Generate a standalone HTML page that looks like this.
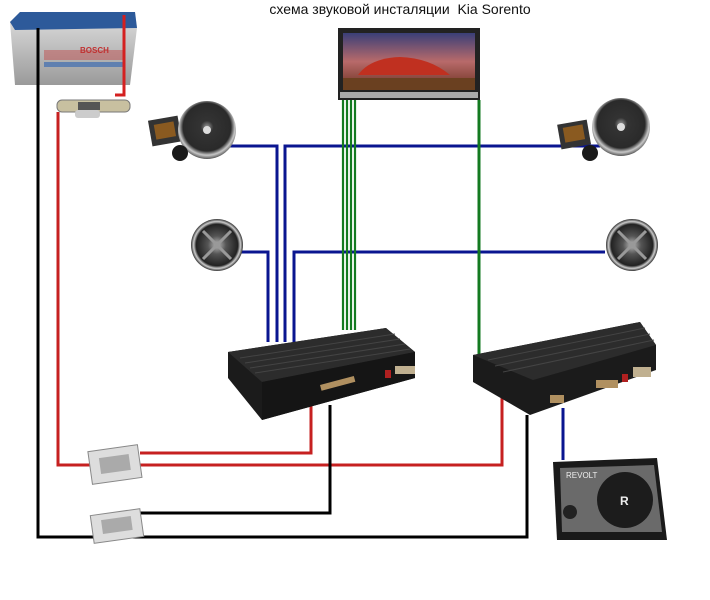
<!DOCTYPE html>
<html><head><meta charset="utf-8"><style>
html,body{margin:0;padding:0;background:#fff;}
svg{display:block;}
</style></head><body>
<svg width="710" height="600" viewBox="0 0 710 600" xmlns="http://www.w3.org/2000/svg">
<defs>
<radialGradient id="wf" cx="50%" cy="45%" r="55%"><stop offset="0" stop-color="#999"/><stop offset="0.2" stop-color="#333"/><stop offset="0.75" stop-color="#2a2a2a"/><stop offset="0.88" stop-color="#c8c8c8"/><stop offset="1" stop-color="#555"/></radialGradient>
<radialGradient id="cx" cx="50%" cy="50%" r="50%"><stop offset="0" stop-color="#bbb"/><stop offset="0.35" stop-color="#555"/><stop offset="0.8" stop-color="#222"/><stop offset="0.9" stop-color="#ccc"/><stop offset="1" stop-color="#333"/></radialGradient>
<linearGradient id="sky" x1="0" y1="0" x2="0" y2="1"><stop offset="0" stop-color="#3a3f78"/><stop offset="0.5" stop-color="#b86a6a"/><stop offset="1" stop-color="#6a3020"/></linearGradient>
<linearGradient id="bat" x1="0" y1="0" x2="0" y2="1"><stop offset="0" stop-color="#e0e0e0"/><stop offset="1" stop-color="#9a9a9a"/></linearGradient>
</defs>
<text x="400" y="14" font-family="Liberation Sans, sans-serif" font-size="14" text-anchor="middle" fill="#111">схема звуковой инсталяции&#160; Kia Sorento</text>

<!-- battery -->
<polygon points="10,22 20,12 135,12 137,28 130,85 15,85" fill="url(#bat)"/>
<polygon points="10,22 20,12 135,12 137,28 15,30" fill="#2d5a9a"/>
<rect x="44" y="50" width="80" height="10" fill="#c05050" opacity="0.5"/>
<text x="80" y="53" font-family="Liberation Sans, sans-serif" font-size="8" font-weight="bold" fill="#c03030">BOSCH</text>
<rect x="44" y="62" width="80" height="5" fill="#6080b0"/>

<!-- wires -->
<g fill="none" stroke-width="3">
<polyline points="124,15 124,95 115,95" stroke="#d42020"/>
<polyline points="58,112 58,465 502,465 502,398" stroke="#c62020"/>
<polyline points="140,453 311,453 311,405" stroke="#c62020"/>
<polyline points="38,28 38,537 527,537 527,415" stroke="#000"/>
<polyline points="140,513 330,513 330,405" stroke="#000"/>
<polyline points="225,146 277,146 277,342" stroke="#0a1590"/>
<polyline points="285,342 285,146 600,146" stroke="#0a1590"/>
<polyline points="240,252 268,252 268,342" stroke="#0a1590"/>
<polyline points="294,342 294,252 605,252" stroke="#0a1590"/>
<line x1="563" y1="408" x2="563" y2="460" stroke="#0a1590"/>
</g>
<g stroke="#137a20" stroke-width="2.2">
<line x1="343" y1="100" x2="343" y2="330"/>
<line x1="347" y1="100" x2="347" y2="330"/>
<line x1="351" y1="100" x2="351" y2="330"/>
<line x1="355" y1="100" x2="355" y2="330"/>
<line x1="479" y1="100" x2="479" y2="355" stroke-width="3"/>
</g>

<!-- fuse -->
<rect x="57" y="100" width="73" height="12" rx="5" fill="#c8c0a0" stroke="#777"/>
<rect x="78" y="102" width="22" height="8" fill="#555"/>
<rect x="75" y="110" width="25" height="8" rx="3" fill="#ccc"/>

<!-- head unit -->
<rect x="338" y="28" width="142" height="72" fill="#222"/>
<rect x="343" y="33" width="132" height="57" fill="url(#sky)"/>
<path d="M358,75 Q370,58 400,57 Q430,58 450,75 Z" fill="#c03020"/>
<rect x="343" y="78" width="132" height="12" fill="#6a4020"/>
<rect x="340" y="92" width="138" height="6" fill="#aaa"/>

<!-- left component set -->
<rect x="150" y="118" width="30" height="26" fill="#333" transform="rotate(-10 165 131)"/>
<rect x="155" y="123" width="20" height="15" fill="#8a5a20" transform="rotate(-10 165 131)"/>
<circle cx="207" cy="130" r="29" fill="url(#wf)"/>
<circle cx="207" cy="130" r="4" fill="#ddd"/>
<circle cx="180" cy="153" r="8" fill="#1a1a1a"/>
<!-- right component set -->
<rect x="559" y="122" width="30" height="25" fill="#333" transform="rotate(-10 574 134)"/>
<rect x="564" y="126" width="20" height="15" fill="#8a5a20" transform="rotate(-10 574 134)"/>
<circle cx="621" cy="127" r="29" fill="url(#wf)"/>
<circle cx="621" cy="127" r="4" fill="#ddd"/>
<circle cx="590" cy="153" r="8" fill="#1a1a1a"/>
<!-- coax -->
<circle cx="217" cy="245" r="26" fill="url(#cx)"/>
<path d="M203,231 L231,259 M231,231 L203,259" stroke="#999" stroke-width="3"/>
<circle cx="632" cy="245" r="26" fill="url(#cx)"/>
<path d="M618,231 L646,259 M646,231 L618,259" stroke="#999" stroke-width="3"/>

<!-- amp 1 -->
<polygon points="228,352 386,328 415,352 415,378 262,420 228,378" fill="#1b1b1b"/>
<polygon points="228,352 386,328 415,352 262,382" fill="#2c2c2c"/>
<g stroke="#444" stroke-width="1">
<line x1="240" y1="358" x2="395" y2="334"/><line x1="245" y1="363" x2="400" y2="339"/><line x1="250" y1="368" x2="405" y2="344"/><line x1="255" y1="373" x2="410" y2="349"/>
</g>
<polygon points="262,382 415,352 415,378 262,420" fill="#151515"/>
<rect x="320" y="385" width="35" height="6" fill="#b09060" transform="rotate(-15 320 385)"/>
<rect x="395" y="366" width="20" height="8" fill="#c0b090"/>
<rect x="385" y="370" width="6" height="8" fill="#b02020"/>
<!-- amp 2 -->
<polygon points="473,355 640,322 656,345 656,370 530,415 473,382" fill="#1b1b1b"/>
<polygon points="473,355 640,322 656,345 533,380" fill="#2c2c2c"/>
<g stroke="#444" stroke-width="1">
<line x1="488" y1="360" x2="645" y2="328"/><line x1="495" y1="366" x2="650" y2="334"/><line x1="503" y1="372" x2="654" y2="340"/>
</g>
<rect x="550" y="395" width="14" height="8" fill="#b09060"/>
<rect x="596" y="380" width="22" height="8" fill="#b09060"/>
<rect x="633" y="367" width="18" height="10" fill="#c0b090"/>
<rect x="622" y="374" width="6" height="8" fill="#b02020"/>

<!-- distribution blocks -->
<g>
<rect x="90" y="448" width="50" height="33" fill="#ddd" stroke="#888" transform="rotate(-8 115 465)"/>
<rect x="100" y="456" width="30" height="16" fill="#aaa" transform="rotate(-8 115 465)"/>
<rect x="92" y="512" width="50" height="28" fill="#ddd" stroke="#888" transform="rotate(-8 117 526)"/>
<rect x="102" y="518" width="30" height="14" fill="#aaa" transform="rotate(-8 117 526)"/>
</g>

<!-- subwoofer -->
<polygon points="553,462 657,458 667,540 557,540" fill="#1a1a1a"/>
<polygon points="560,468 654,465 662,532 562,532" fill="#6a6a6a"/>
<circle cx="625" cy="500" r="28" fill="#1c1c1c"/>
<text x="620" y="505" font-family="Liberation Sans, sans-serif" font-size="12" font-weight="bold" fill="#eee">R</text>
<circle cx="570" cy="512" r="7" fill="#222"/>
<text x="566" y="478" font-family="Liberation Sans, sans-serif" font-size="8" fill="#eee">REVOLT</text>
</svg>
</body></html>
